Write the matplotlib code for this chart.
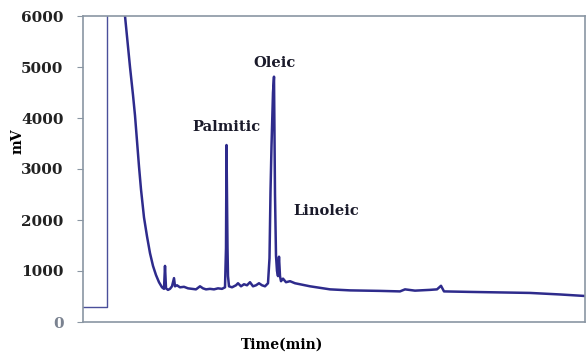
import numpy as np
import matplotlib
matplotlib.use("Agg")
import matplotlib.pyplot as plt

# Chromatogram trace (time in arbitrary minutes, signal in mV)
TIME = [
    0.0, 2.4, 2.4, 4.1, 4.2, 4.4, 4.7, 5.0, 5.2, 5.4, 5.6, 5.8, 6.1, 6.4, 6.7,
    7.0, 7.3, 7.6, 7.9, 8.1, 8.2, 8.3, 8.5, 8.7, 8.9, 9.1, 9.2, 9.4, 9.7, 10.1,
    10.5, 10.9, 11.3, 11.7, 12.0, 12.3, 12.7, 13.1, 13.5, 13.9, 14.2, 14.3,
    14.35, 14.45, 14.5, 14.6, 14.9, 15.3, 15.5, 15.8, 16.1, 16.4, 16.7, 17.0,
    17.3, 17.6, 17.9, 18.2, 18.5, 18.65, 18.75, 18.85, 19.0, 19.1, 19.2, 19.3,
    19.4, 19.5, 19.6, 19.7, 19.8, 20.0, 20.3, 20.7, 21.2, 21.7, 22.7, 24.7,
    26.7, 29.7, 31.7, 32.2, 33.2, 34.7, 35.4, 35.8, 36.1, 38.7, 41.7, 44.7,
    47.7, 50.2,
]
SIGNAL = [
    300, 300, 6500, 6500, 6000, 5600, 5000, 4450, 4050, 3550, 3050, 2600,
    2050, 1680, 1350, 1100, 920, 780, 680, 650, 1100, 660, 630, 650, 700,
    860, 700, 720, 680, 690, 660, 650, 640, 700, 660, 640, 650, 640, 660,
    650, 680, 1450, 3470, 1450, 900, 700, 680, 720, 760, 700, 740, 720, 780,
    700, 720, 760, 720, 700, 760, 1250, 2550, 3450, 4500, 4810, 2500, 1300,
    1000, 900, 1280, 900, 800, 850, 780, 800, 760, 740, 700, 640, 620, 610,
    600, 640, 615, 630, 640, 710, 600, 590, 580, 570, 540, 510,
]

PEAK_LABELS = ["Palmitic", "Oleic", "Linoleic"]
PEAK_LABEL_X = [14.3, 19.2, 21.0]
PEAK_LABEL_Y = [3820, 5080, 2180]

LINE_COLOR = "#2e2b8c"
SPINE_COLOR = "#8a96a3"
# the off-scale injection step is drawn thinner than the rest of the trace
N_INJECTION = 4


def main():
    fig = plt.figure(figsize=(5.86, 3.55), dpi=100)
    ax = fig.add_axes([83 / 586, 1 - 322 / 355, 502 / 586, 306 / 355])

    ax.plot(TIME[:N_INJECTION], SIGNAL[:N_INJECTION], color="#4a4f9a", linewidth=1.0)
    ax.plot(TIME[N_INJECTION - 1:], SIGNAL[N_INJECTION - 1:], color=LINE_COLOR,
            linewidth=1.8, solid_joinstyle="round")

    for name, x, y in zip(PEAK_LABELS, PEAK_LABEL_X, PEAK_LABEL_Y):
        ha = "left" if name == "Linoleic" else "center"
        ax.text(x, y, name, ha=ha, va="center", fontsize=10.5,
                fontweight="bold", family="DejaVu Serif", color="#1a1a2a")

    ax.set_xlim(0, 50.2)
    ax.set_ylim(0, 6000)
    ax.set_yticks(np.arange(0, 6001, 1000))
    ax.set_xticks([])

    for label in ax.get_yticklabels():
        label.set_fontfamily("DejaVu Serif")
        label.set_fontweight("bold")
        label.set_fontsize(11)
        label.set_color("#222222")
    ax.get_yticklabels()[0].set_color("#7a8290")

    ax.tick_params(axis="y", direction="out", length=4, color=SPINE_COLOR, pad=10)
    for spine in ax.spines.values():
        spine.set_color(SPINE_COLOR)
        spine.set_linewidth(1.2)

    fig.text(18 / 586, 1 - 141 / 355, "mV", rotation=90, ha="center", va="center",
             fontsize=10, fontweight="bold", family="DejaVu Serif")
    fig.text(282 / 586, 1 - 345 / 355, "Time(min)", ha="center", va="center",
             fontsize=10, fontweight="bold", family="DejaVu Serif")

    fig.savefig("out.png", dpi=100)
    plt.close(fig)


if __name__ == "__main__":
    main()
